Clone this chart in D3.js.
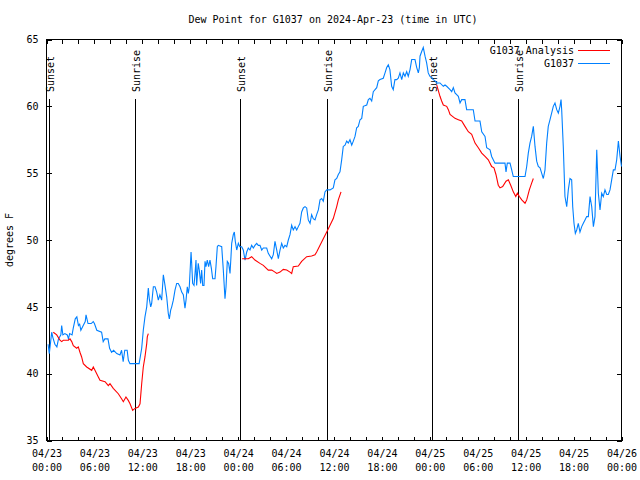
<!DOCTYPE html>
<html><head><meta charset="utf-8">
<script src="https://cdn.jsdelivr.net/npm/d3@7"></script>
<style>
body{margin:0;background:#fff;}
text{font-family:"DejaVu Sans Mono",monospace;font-size:10px;fill:#000;}
</style></head>
<body><svg id="c" width="640" height="480"></svg>
<script>
// ---- data (hours after 2024-04-23 00:00 UTC) ----
const stationName = "G1037";
const analysisName = "G1037 Analysis";
const titleText = "Dew Point for G1037 on 2024-Apr-23 (time in UTC)";
const yLabel = "degrees F";
const yTicks = [35, 40, 45, 50, 55, 60, 65];
const xTickHours = [0, 6, 12, 18, 24, 30, 36, 42, 48, 54, 60, 66, 72];
const sunsetHours = [0.36, 24.28, 48.33];
const sunriseHours = [11.12, 35.16, 59.08];

const obsHours = [0.2,0.35,0.65,0.8,1.05,1.3,1.5,1.8,1.9,2.05,2.3,2.6,2.75,2.9,3.2,3.35,3.6,3.8,4.0,4.15,4.3,4.6,4.85,4.95,5.2,5.6,5.85,6.0,6.3,6.9,7.1,7.3,7.7,7.9,8.15,8.4,8.8,9.2,9.4,9.6,9.8,10.1,10.25,10.45,11.6,11.92,12.12,12.33,12.55,12.75,12.87,13.05,13.17,13.38,13.59,13.8,14.0,14.2,14.42,14.63,14.84,15.05,15.25,15.38,15.55,15.68,15.88,16.09,16.3,16.5,16.72,16.93,17.13,17.34,17.47,17.63,17.76,17.88,18.1,18.18,18.3,18.47,18.6,18.72,18.8,19.0,19.13,19.3,19.43,19.56,19.72,19.85,19.97,20.13,20.3,20.47,20.64,20.81,21.1,21.22,21.39,21.51,21.94,22.14,22.35,22.48,22.64,22.81,22.98,23.1,23.19,23.39,23.52,23.64,23.82,24.02,24.2,24.44,24.64,24.86,25.07,25.27,25.48,25.69,25.9,26.1,26.32,26.52,26.73,26.95,27.15,27.57,27.77,28.2,28.4,28.61,28.83,29.03,29.24,29.45,29.65,29.86,30.08,30.28,30.49,30.7,30.9,31.12,31.33,31.53,31.74,31.95,32.16,32.37,32.58,32.78,33.0,33.2,33.4,33.62,33.83,34.04,34.25,34.46,34.66,34.87,35.09,35.5,35.91,36.12,36.34,36.54,36.75,36.96,37.16,37.38,37.59,37.79,38.0,38.22,38.42,38.63,38.84,39.04,39.26,39.47,39.67,40.1,40.3,40.5,40.72,40.92,41.35,41.55,41.76,42.17,42.39,42.6,42.8,43.0,43.22,43.42,43.63,43.85,44.05,44.26,44.48,44.68,44.89,45.1,45.3,45.52,45.73,46.14,46.36,46.56,46.69,46.77,46.98,47.18,47.4,47.6,47.8,48.0,48.43,48.65,48.86,49.27,49.69,49.9,50.11,50.53,50.74,50.94,51.15,51.57,51.78,51.99,52.4,52.61,53.44,53.66,54.28,54.5,54.91,55.12,55.54,55.74,56.16,57.41,57.54,57.7,58.04,58.25,58.45,59.92,60.13,60.33,60.54,60.75,60.96,61.17,61.38,61.58,61.8,62.0,62.21,62.42,62.63,62.83,63.05,63.46,63.67,63.89,64.09,64.3,64.43,64.51,64.71,64.92,65.14,65.34,65.55,65.76,65.89,66.05,66.22,66.39,66.59,66.8,67.02,67.22,67.43,67.64,67.85,68.06,68.27,68.48,68.68,68.9,69.1,69.31,69.52,69.72,69.93,70.15,70.35,70.56,70.77,70.98,71.19,71.4,71.61,71.82,72.0];
const obsValues = [42.2,41.5,43.1,42.7,42.2,42.0,42.6,42.9,43.6,42.9,43.0,42.9,42.6,43.0,42.9,43.4,44.1,44.25,43.6,43.7,43.25,43.6,43.9,44.4,43.75,43.75,43.9,43.75,43.25,43.1,42.4,42.6,42.6,41.9,41.6,41.75,41.5,41.4,41.75,40.9,41.75,41.75,41.0,40.75,40.75,41.9,43.25,44.25,45.0,46.4,45.6,45.0,45.25,46.5,46.5,46.1,45.5,45.9,45.5,47.4,46.6,45.75,44.5,44.1,44.75,45.0,45.5,46.25,46.75,46.75,46.5,46.1,45.9,44.9,45.5,46.5,46.0,46.5,49.1,48.25,46.75,46.6,47.5,48.5,46.6,48.25,47.75,46.75,47.75,46.6,46.6,48.4,48.0,48.5,48.0,48.5,47.9,47.1,47.1,48.0,49.5,49.6,49.5,47.75,45.6,46.5,48.4,48.25,47.5,48.75,49.75,50.4,50.6,49.9,49.25,49.75,49.5,49.5,49.25,48.5,49.1,49.4,49.25,49.6,49.4,49.6,49.75,49.6,49.6,49.25,49.4,49.4,49.0,48.6,48.9,49.9,49.25,48.6,49.25,49.75,49.4,49.6,49.5,50.0,50.4,51.1,50.75,51.0,50.75,51.0,51.25,52.1,52.4,52.5,52.4,51.5,51.25,51.9,51.6,51.5,51.9,52.25,53.0,53.1,52.9,53.6,53.75,53.75,53.9,54.5,54.6,54.9,55.1,56.0,57.0,57.1,57.4,57.25,57.5,57.1,57.4,57.75,58.4,58.5,59.0,59.1,60.0,60.1,60.5,60.6,60.4,61.1,61.4,61.9,62.0,62.1,62.5,62.9,63.1,62.75,61.5,61.25,62.0,62.0,62.1,62.5,62.0,62.5,62.25,62.6,62.25,62.75,63.5,63.5,62.9,62.5,62.9,63.75,64.1,64.4,63.75,63.25,62.5,62.25,62.0,61.9,61.75,61.75,61.5,61.6,61.5,61.25,61.1,61.4,61.0,60.75,60.25,60.5,60.5,59.75,59.75,58.9,58.9,58.1,57.75,56.9,56.75,56.25,55.75,55.75,55.1,55.75,55.75,55.25,54.75,54.75,55.5,56.5,57.25,57.75,58.5,57.0,55.9,55.5,55.4,55.0,54.6,55.25,57.25,58.5,59.0,60.0,60.25,59.75,59.5,60.0,60.5,59.75,57.0,53.25,52.5,53.75,54.6,54.5,52.5,51.25,50.5,50.75,51.25,50.6,51.0,51.25,51.5,51.75,51.75,53.25,52.5,51.0,51.75,56.75,53.5,52.25,53.5,53.25,53.75,53.4,53.4,53.75,54.5,55.25,55.25,56.0,57.4,56.25,55.5];

// analysis: null marks a gap between runs
const anaHours = [0.85,1.28,1.69,1.9,2.1,2.73,2.94,3.16,3.36,3.78,3.98,4.19,4.4,4.61,5.03,5.66,5.86,6.07,6.49,6.7,7.33,7.74,7.95,8.36,8.99,9.42,9.62,9.95,10.24,10.46,10.79,11.08,11.5,11.71,11.92,12.12,12.33,12.55,12.62,12.75,
  18.0,
  24.5,25.27,25.69,26.1,26.73,27.15,27.77,28.2,28.61,28.83,29.24,29.65,30.08,30.49,30.7,30.9,31.53,31.95,32.58,33.2,33.62,33.83,34.25,34.66,35.09,35.5,35.91,36.34,36.54,36.88,
  42.0,
  48.86,49.27,49.48,49.69,50.11,50.32,50.53,51.15,51.57,51.99,52.4,52.82,53.24,53.66,54.07,54.5,54.91,55.32,55.74,56.03,56.28,56.57,56.79,57.12,57.54,57.83,58.13,58.45,58.76,58.96,59.21,59.51,59.92,60.13,60.46,60.75,60.96];
const anaValues = [43.1,42.9,42.5,42.4,42.5,42.5,42.6,42.4,42.1,41.9,42.0,41.6,41.25,40.75,40.5,40.25,40.5,40.25,39.75,39.5,39.4,39.1,39.25,38.9,38.5,38.1,37.9,38.25,38.0,37.75,37.25,37.4,37.5,37.75,39.25,40.5,41.25,42.25,42.75,43.0,
  null,
  48.6,48.6,48.75,48.5,48.25,48.1,47.75,47.75,47.6,47.5,47.6,47.8,47.75,47.6,47.5,48.0,48.05,48.4,48.75,48.8,48.9,49.1,49.6,50.1,50.6,51.1,51.6,52.5,53.0,53.6,
  null,
  61.6,60.75,60.4,60.1,60.0,59.75,59.4,59.1,59.0,58.9,58.5,58.1,57.9,57.25,56.9,56.5,56.25,56.0,55.5,55.4,54.9,54.1,53.9,54.0,54.4,54.5,54.1,53.6,53.25,53.5,53.25,53.0,52.75,53.0,53.75,54.25,54.6];

// ---- drawing ----
const t0 = Date.UTC(2024, 3, 23, 0, 0);
const H = 3600 * 1000;
const toDate = h => new Date(t0 + h * H);

const L = 46.5, R = 621.5, T = 39.5, B = 440.5;
const svg = d3.select("#c");
const x = d3.scaleUtc().domain([toDate(0), toDate(72)]).range([L, R]);
const y = d3.scaleLinear().domain([35, 65]).range([B, T]);

// title
svg.append("text").attr("x", 333).attr("y", 23).attr("text-anchor", "middle").text(titleText);

// y label
svg.append("text").attr("transform", "translate(13,240) rotate(-90)")
  .attr("text-anchor", "middle").text(yLabel);

// minor x ticks every 2h (bottom and top)
const tickHours = d3.range(0, 73, 2);
const xb = svg.append("g").attr("transform", `translate(0,${B})`)
  .call(d3.axisBottom(x).tickValues(tickHours.map(toDate)).tickSize(-4).tickFormat(""));
const xt = svg.append("g").attr("transform", `translate(0,${T})`)
  .call(d3.axisTop(x).tickValues(tickHours.map(toDate)).tickSize(-4).tickFormat(""));
[xb, xt].forEach(g => { g.select(".domain").remove(); g.selectAll("line").attr("stroke", "#000").attr("shape-rendering", "crispEdges"); });

// x labels (two lines)
const fmtD = d3.utcFormat("%m/%d"), fmtT = d3.utcFormat("%H:%M");
const xl = svg.append("g").attr("transform", `translate(0,${B})`)
  .call(d3.axisBottom(x).tickValues(xTickHours.map(toDate)).tickSize(0).tickPadding(0).tickFormat(""));
xl.select(".domain").remove();
xl.selectAll(".tick").each(function(d) {
  const t = d3.select(this).append("text").attr("text-anchor", "middle").attr("fill", "#000")
    .style("font-family", '"DejaVu Sans Mono",monospace').style("font-size", "10px");
  t.append("tspan").attr("x", 0).attr("y", 16).text(fmtD(d));
  t.append("tspan").attr("x", 0).attr("y", 30).text(fmtT(d));
});

// y axes
const yl = svg.append("g").attr("transform", `translate(${L},0)`)
  .call(d3.axisLeft(y).tickValues(yTicks).tickSize(-5).tickPadding(8).tickFormat(d3.format("d")));
const yr = svg.append("g").attr("transform", `translate(${R},0)`)
  .call(d3.axisRight(y).tickValues(yTicks).tickSize(-5).tickFormat(""));
[yl, yr].forEach(g => { g.select(".domain").remove(); g.selectAll("line").attr("stroke", "#000").attr("shape-rendering", "crispEdges"); });
yl.selectAll("text").style("font-family", '"DejaVu Sans Mono",monospace').style("font-size", "10px").attr("fill", "#000");

// frame
svg.append("rect").attr("x", L).attr("y", T).attr("width", R - L).attr("height", B - T)
  .attr("fill", "none").attr("stroke", "#000").attr("shape-rendering", "crispEdges");

// sunrise / sunset markers
const sunEvents = sunsetHours.map(h => ({h, label: "Sunset"}))
  .concat(sunriseHours.map(h => ({h, label: "Sunrise"})));
sunEvents.forEach(e => {
  const px = Math.round(x(toDate(e.h))) + 0.5;
  svg.append("line").attr("x1", px).attr("x2", px).attr("y1", 99).attr("y2", B)
    .attr("stroke", "#000").attr("shape-rendering", "crispEdges");
  svg.append("text").attr("transform", `translate(${px + 4},92) rotate(-90)`).text(e.label);
});

// series
const line = d3.line().defined(d => d[1] != null).x(d => x(toDate(d[0]))).y(d => y(d[1]));
const anaData = anaHours.map((h, i) => [h, anaValues[i]]);
const obsData = obsHours.map((h, i) => [h, obsValues[i]]);
svg.append("path").datum(obsData).attr("d", line).attr("fill", "none").attr("stroke", "#0080ff").attr("stroke-width", 1.1);
svg.append("path").datum(anaData).attr("d", line).attr("fill", "none").attr("stroke", "#ff0000").attr("stroke-width", 1.1);

// legend
const leg = [{name: analysisName, color: "#ff0000", y: 50}, {name: stationName, color: "#0080ff", y: 63}];
leg.forEach(l => {
  svg.append("text").attr("x", 574).attr("y", l.y + 3.5).attr("text-anchor", "end").text(l.name);
  svg.append("line").attr("x1", 578).attr("x2", 610).attr("y1", l.y + 0.5).attr("y2", l.y + 0.5)
    .attr("stroke", l.color).attr("stroke-width", 1);
});
</script></body></html>
